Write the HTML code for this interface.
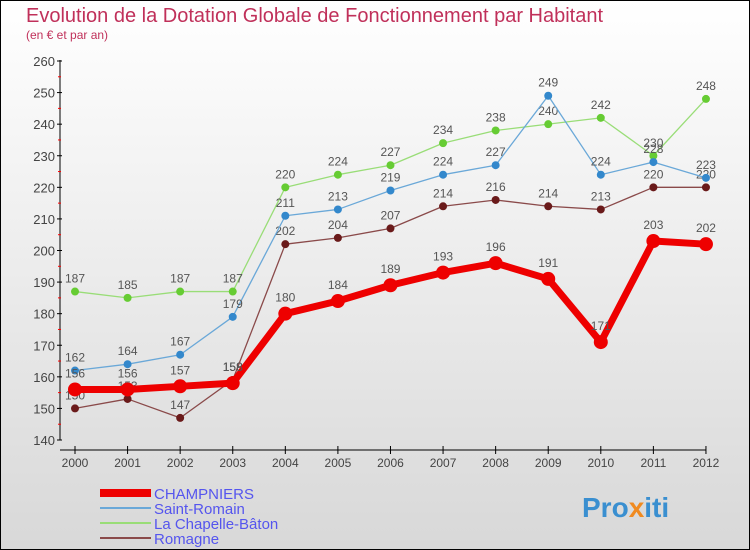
<!DOCTYPE html>
<html><head><meta charset="utf-8"><style>
body{margin:0}
#c{width:750px;height:550px;position:relative;overflow:hidden;font-family:"Liberation Sans",sans-serif}
</style></head><body>
<div id="c">
<svg id="s" width="750" height="550" xmlns="http://www.w3.org/2000/svg">
<defs><linearGradient id="bg" x1="0" y1="0" x2="0" y2="1"><stop offset="0" stop-color="#ffffff"/><stop offset="1" stop-color="#d8d8d8"/></linearGradient></defs>
<rect x="0.5" y="0.5" width="749" height="549" fill="url(#bg)" stroke="#000"/>
<text x="26" y="22" font-size="20" fill="#c0305a">Evolution de la Dotation Globale de Fonctionnement par Habitant</text>
<text x="26" y="39" font-size="12" fill="#c0305a">(en € et par an)</text>
<g id="axes"></g><g id="series"></g><g id="legend"></g>
<text x="582" y="517" font-size="28" font-weight="bold" fill="#3a8fd0">Pro<tspan fill="#f08a20">x</tspan>iti</text>
</svg></div>
<script>
const years=["2000","2001","2002","2003","2004","2005","2006","2007","2008","2009","2010","2011","2012"];
const yTicks=[140,150,160,170,180,190,200,210,220,230,240,250,260];
const champniers=[156,156,157,158,180,184,189,193,196,191,171,203,202];
const saintRomain=[162,164,167,179,211,213,219,224,227,249,224,228,223];
const chapelle=[187,185,187,187,220,224,227,234,238,240,242,230,248];
const romagne=[150,153,147,159,202,204,207,214,216,214,213,220,220];
const NS="http://www.w3.org/2000/svg";
const X=i=>75+i*52.58, Y=v=>440-(v-140)*(379/120);
function el(t,a,p){const e=document.createElementNS(NS,t);for(const k in a)e.setAttribute(k,a[k]);p.appendChild(e);return e;}
const ax=document.getElementById('axes');
let a=el('line',{x1:60,y1:60,x2:60,y2:440,stroke:'#000'},ax);


a=el('line',{x1:60,y1:450,x2:706,y2:450,stroke:'#000'},ax);


yTicks.forEach((v,i)=>{
 el('line',{x1:57,y1:Y(v),x2:62,y2:Y(v),stroke:'#000'},ax);
 if(i<yTicks.length-1) el('line',{x1:58,y1:Y(v+5),x2:61,y2:Y(v+5),stroke:'#f00'},ax);
 const t=el('text',{x:55,y:Y(v)+5,'font-size':13,'text-anchor':'end',fill:'#444'},ax);t.textContent=v;
 
 
});
years.forEach((y,i)=>{
 el('line',{x1:X(i),y1:446,x2:X(i),y2:454,stroke:'#000'},ax);
 const t=el('text',{x:X(i),y:467,'font-size':12,'text-anchor':'middle',fill:'#444'},ax);t.textContent=y;
 
 
});
const sg=document.getElementById('series');
function draw(data,color,dot,w,r,name,labelFill){
 const g=el('g',{},sg);
 
 
 el('polyline',{points:data.map((v,i)=>X(i)+','+Y(v)).join(' '),fill:'none',stroke:color,'stroke-width':w,'stroke-linejoin':'round'},g);
 data.forEach((v,i)=>{
  const c=el('circle',{cx:X(i),cy:Y(v),r:r,fill:dot},g);
  
  
  const t=el('text',{x:X(i),y:Y(v)-9-(r>4?3:0),'font-size':12,'text-anchor':'middle',fill:labelFill},g);t.textContent=v;
  
  
 });
}
draw(romagne,'#8a4a4a','#6a1a1a',1.3,4,'romagne','#555');
draw(chapelle,'#99dd77','#66cc33',1.3,4,'la-chapelle-baton','#555');
draw(saintRomain,'#6aa8d8','#3388cc',1.3,4,'saint-romain','#555');
draw(champniers,'#ee0000','#ee0000',7,7,'champniers','#555');
const lg=document.getElementById('legend');
const leg=[["CHAMPNIERS","#ee0000",8],["Saint-Romain","#6aa8d8",2],["La Chapelle-Bâton","#99dd77",2],["Romagne","#8a4a4a",2]];
leg.forEach((l,i)=>{
 const y=493+i*15;
 const g=el('g',{},lg);
 
 
 el('line',{x1:100,y1:y,x2:151,y2:y,stroke:l[1],'stroke-width':l[2]},g);
 const t=el('text',{x:154,y:y+6,'font-size':15,fill:'#5555ee'},g);t.textContent=l[0];
});
</script>
</body></html>
